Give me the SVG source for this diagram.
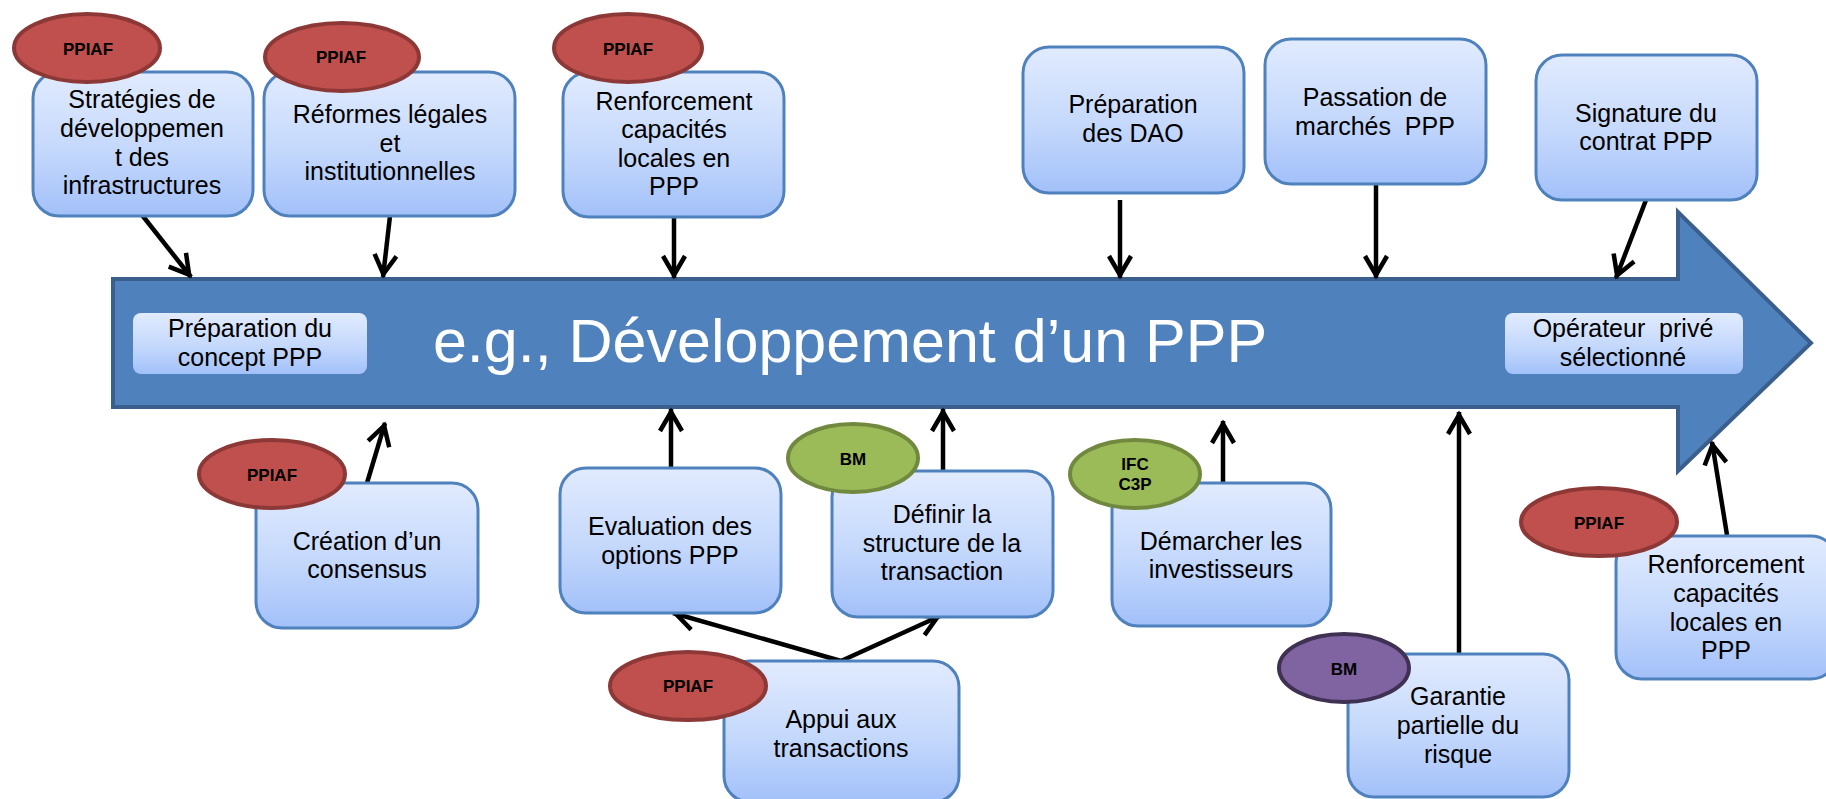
<svg xmlns="http://www.w3.org/2000/svg" width="1826" height="799" viewBox="0 0 1826 799">
<defs>
  <linearGradient id="boxg" x1="0" y1="0" x2="0" y2="1">
    <stop offset="0" stop-color="#E1EBFE"/>
    <stop offset="0.55" stop-color="#C4D8FC"/>
    <stop offset="1" stop-color="#A2C0F9"/>
  </linearGradient>
  <marker id="ah" markerUnits="userSpaceOnUse" viewBox="-26 -14 30 28" markerWidth="30" markerHeight="28" refX="0" refY="0" orient="auto">
    <path d="M-22,-11 L-3,0 L-22,11" fill="none" stroke="#000" stroke-width="4.5"/>
  </marker>
  <style>
    .box{fill:url(#boxg);stroke:#4F81BD;stroke-width:3}
    .inbox{fill:url(#boxg);stroke:none}
    .t{font-family:"Liberation Sans",Arial,sans-serif;font-size:25px;fill:#000;text-anchor:middle}
    .title{font-family:"Liberation Sans",Arial,sans-serif;font-size:61px;fill:#fff;text-anchor:middle}
    .red{fill:#C0504D;stroke:#8C3836;stroke-width:4}
    .green{fill:#9BBB59;stroke:#71893F;stroke-width:4}
    .purple{fill:#8064A2;stroke:#3F3151;stroke-width:4}
    .bt{font-family:"Liberation Sans",Arial,sans-serif;font-size:17px;font-weight:bold;fill:#000;text-anchor:middle}
    .c{stroke:#000;stroke-width:4.5;fill:none;marker-end:url(#ah)}
  </style>
</defs>
<rect width="1826" height="799" fill="#fff"/>

<g id="main-arrow">
  <path d="M113,279 L1678,279 L1678,212 L1811,343 L1678,471 L1678,407 L113,407 Z" fill="#4F81BD" stroke="#3A5F8C" stroke-width="4"/>
  <text class="title" x="850" y="362">e.g., Développement d’un PPP</text>
</g>

<g id="connectors">
  <line class="c" x1="142" y1="215" x2="191" y2="277"/>
  <line class="c" x1="390" y1="216" x2="383" y2="277"/>
  <line class="c" x1="674" y1="217" x2="674" y2="278"/>
  <line class="c" x1="1120" y1="200" x2="1120" y2="278"/>
  <line class="c" x1="1376" y1="184" x2="1376" y2="278"/>
  <line class="c" x1="1646" y1="200" x2="1616" y2="278"/>
  <line class="c" x1="367" y1="483" x2="385" y2="423"/>
  <line class="c" x1="671" y1="468" x2="671" y2="409"/>
  <line class="c" x1="943" y1="471" x2="943" y2="409"/>
  <line class="c" x1="1223" y1="483" x2="1223" y2="421"/>
  <line class="c" x1="841" y1="661" x2="673" y2="613"/>
  <line class="c" x1="841" y1="661" x2="940" y2="616"/>
  <line class="c" x1="1459" y1="654" x2="1459" y2="412"/>
  <line class="c" x1="1727" y1="535" x2="1712" y2="442"/>
</g>

<g id="n-strategies">
  <rect class="box" x="33" y="72" width="220" height="144" rx="26"/>
  <text class="t" x="142" y="108">Stratégies de</text>
  <text class="t" x="142" y="137">développemen</text>
  <text class="t" x="142" y="166">t des</text>
  <text class="t" x="142" y="194">infrastructures</text>
</g>
<g id="n-reformes">
  <rect class="box" x="264" y="72" width="251" height="144" rx="26"/>
  <text class="t" x="390" y="123">Réformes légales</text>
  <text class="t" x="390" y="152">et</text>
  <text class="t" x="390" y="180">institutionnelles</text>
</g>
<g id="n-renforcement-1">
  <rect class="box" x="563" y="72" width="221" height="145" rx="26"/>
  <text class="t" x="674" y="110">Renforcement</text>
  <text class="t" x="674" y="138">capacités</text>
  <text class="t" x="674" y="167">locales en</text>
  <text class="t" x="674" y="195">PPP</text>
</g>
<g id="n-dao">
  <rect class="box" x="1023" y="47" width="221" height="146" rx="26"/>
  <text class="t" x="1133" y="113">Préparation</text>
  <text class="t" x="1133" y="142">des DAO</text>
</g>
<g id="n-passation">
  <rect class="box" x="1265" y="39" width="221" height="145" rx="26"/>
  <text class="t" x="1375" y="106">Passation de</text>
  <text class="t" x="1375" y="135" xml:space="preserve">marchés  PPP</text>
</g>
<g id="n-signature">
  <rect class="box" x="1536" y="55" width="221" height="145" rx="26"/>
  <text class="t" x="1646" y="122">Signature du</text>
  <text class="t" x="1646" y="150">contrat PPP</text>
</g>
<g id="n-concept">
  <rect class="inbox" x="133" y="313" width="234" height="61" rx="8"/>
  <text class="t" x="250" y="337">Préparation du</text>
  <text class="t" x="250" y="366">concept PPP</text>
</g>
<g id="n-operateur">
  <rect class="inbox" x="1505" y="313" width="238" height="61" rx="8"/>
  <text class="t" x="1623" y="337" xml:space="preserve">Opérateur  privé</text>
  <text class="t" x="1623" y="366">sélectionné</text>
</g>
<g id="n-creation">
  <rect class="box" x="256" y="483" width="222" height="145" rx="26"/>
  <text class="t" x="367" y="550">Création d’un</text>
  <text class="t" x="367" y="578">consensus</text>
</g>
<g id="n-evaluation">
  <rect class="box" x="560" y="468" width="221" height="145" rx="26"/>
  <text class="t" x="670" y="535">Evaluation des</text>
  <text class="t" x="670" y="564">options PPP</text>
</g>
<g id="n-definir">
  <rect class="box" x="832" y="471" width="221" height="146" rx="26"/>
  <text class="t" x="942" y="523">Définir la</text>
  <text class="t" x="942" y="552">structure de la</text>
  <text class="t" x="942" y="580">transaction</text>
</g>
<g id="n-appui">
  <rect class="box" x="724" y="661" width="235" height="141" rx="26"/>
  <text class="t" x="841" y="728">Appui aux</text>
  <text class="t" x="841" y="757">transactions</text>
</g>
<g id="n-demarcher">
  <rect class="box" x="1112" y="483" width="219" height="143" rx="26"/>
  <text class="t" x="1221" y="550">Démarcher les</text>
  <text class="t" x="1221" y="578">investisseurs</text>
</g>
<g id="n-garantie">
  <rect class="box" x="1348" y="654" width="221" height="143" rx="26"/>
  <text class="t" x="1458" y="705">Garantie</text>
  <text class="t" x="1458" y="734">partielle du</text>
  <text class="t" x="1458" y="763">risque</text>
</g>
<g id="n-renforcement-2">
  <rect class="box" x="1616" y="536" width="221" height="143" rx="26"/>
  <text class="t" x="1726" y="573">Renforcement</text>
  <text class="t" x="1726" y="602">capacités</text>
  <text class="t" x="1726" y="631">locales en</text>
  <text class="t" x="1726" y="659">PPP</text>
</g>

<g id="b-ppiaf-1">
  <ellipse class="red" cx="87" cy="48" rx="73" ry="34"/>
  <text class="bt" x="88" y="55">PPIAF</text>
</g>
<g id="b-ppiaf-2">
  <ellipse class="red" cx="342" cy="57" rx="77" ry="34"/>
  <text class="bt" x="341" y="63">PPIAF</text>
</g>
<g id="b-ppiaf-3">
  <ellipse class="red" cx="628" cy="48" rx="74" ry="34"/>
  <text class="bt" x="628" y="55">PPIAF</text>
</g>
<g id="b-ppiaf-4">
  <ellipse class="red" cx="272" cy="474" rx="73" ry="34"/>
  <text class="bt" x="272" y="481">PPIAF</text>
</g>
<g id="b-bm-1">
  <ellipse class="green" cx="853" cy="458" rx="65" ry="34"/>
  <text class="bt" x="853" y="465">BM</text>
</g>
<g id="b-ifc">
  <ellipse class="green" cx="1135" cy="474" rx="65" ry="34"/>
  <text class="bt" x="1135" y="470">IFC</text>
  <text class="bt" x="1135" y="490">C3P</text>
</g>
<g id="b-ppiaf-5">
  <ellipse class="red" cx="688" cy="686" rx="78" ry="34"/>
  <text class="bt" x="688" y="692">PPIAF</text>
</g>
<g id="b-bm-2">
  <ellipse class="purple" cx="1344" cy="668" rx="65" ry="34"/>
  <text class="bt" x="1344" y="675">BM</text>
</g>
<g id="b-ppiaf-6">
  <ellipse class="red" cx="1599" cy="522" rx="78" ry="34"/>
  <text class="bt" x="1599" y="529">PPIAF</text>
</g>
</svg>
